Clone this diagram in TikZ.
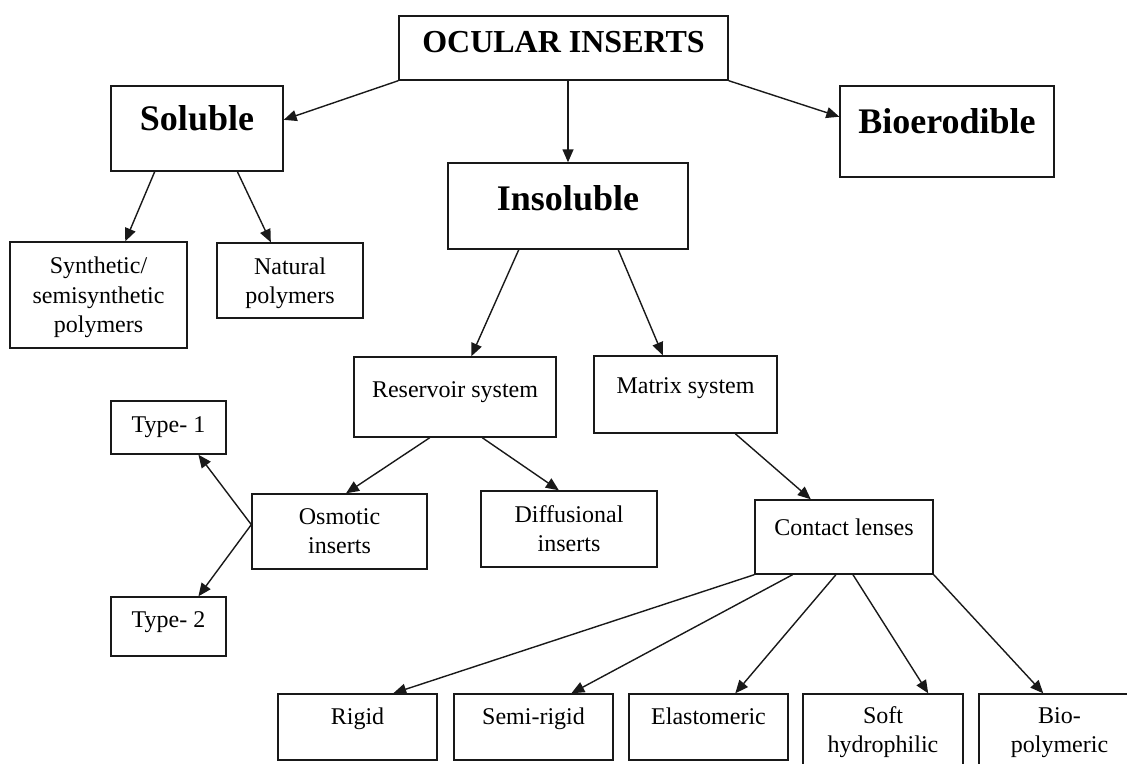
\documentclass[tikz,border=0pt]{standalone}
\usepackage{fontspec}
\setmainfont{Liberation Serif}
\usetikzlibrary{arrows.meta,calc}
\begin{document}
\begin{tikzpicture}[x=1pt,y=-1pt,
  box/.style={draw=black!90,line width=1.4pt,rectangle,inner sep=0pt},
  lbl/.style={anchor=base,inner sep=0pt,font=\fontsize{24}{29}\selectfont},
  big/.style={anchor=base,inner sep=0pt,font=\fontsize{36}{43}\selectfont\bfseries},
  arr/.style={draw=black!90,line width=1.4pt,-{Triangle[length=13pt,width=11pt]}}]
\useasboundingbox (0,0) rectangle (1127,763);
\clip (0,0) rectangle (1127,763);
% boxes
\node[box,minimum width=329pt,minimum height=64pt] (oc) at (563.5,48) {};
\node[box,minimum width=172pt,minimum height=85pt] (sol) at (197,128.5) {};
\node[box,minimum width=214pt,minimum height=91pt] (bio) at (947,131.5) {};
\node[box,minimum width=240pt,minimum height=86pt] (ins) at (568,206) {};
\node[box,minimum width=177pt,minimum height=106pt] (syn) at (98.5,295) {};
\node[box,minimum width=146pt,minimum height=75pt] (nat) at (290,280.5) {};
\node[box,minimum width=202pt,minimum height=80pt] (res) at (455,397) {};
\node[box,minimum width=183pt,minimum height=77pt] (mat) at (685.5,394.5) {};
\node[box,minimum width=115pt,minimum height=53pt] (t1) at (168.5,427.5) {};
\node[box,minimum width=115pt,minimum height=59pt] (t2) at (168.5,626.5) {};
\node[box,minimum width=175pt,minimum height=75pt] (osm) at (339.5,531.5) {};
\node[box,minimum width=176pt,minimum height=76pt] (dif) at (569,529) {};
\node[box,minimum width=178pt,minimum height=74pt] (con) at (844,537) {};
\node[box,minimum width=159pt,minimum height=66pt] (rig) at (357.5,727) {};
\node[box,minimum width=159pt,minimum height=66pt] (semi) at (533.5,727) {};
\node[box,minimum width=159pt,minimum height=66pt] (ela) at (708.5,727) {};
\node[box,minimum width=160pt,minimum height=86pt] (soft) at (883,737) {};
\node[box,minimum width=161pt,minimum height=86pt] (bp) at (1059.5,737) {};
% texts
\node[anchor=base,inner sep=0pt,font=\fontsize{32}{38}\selectfont\bfseries] (ocT) at (563.5,52) {OCULAR INSERTS};
\node[big] (solT) at (197,130) {Soluble};
\node[big] (bioT) at (947,133) {Bioerodible};
\node[big] (insT) at (568,210) {Insoluble};
\node[lbl] (synT1) at (98.5,273) {Synthetic/};
\node[lbl] (synT2) at (98.5,303) {semisynthetic};
\node[lbl] (synT3) at (98.5,332) {polymers};
\node[lbl] (natT1) at (290,274) {Natural};
\node[lbl] (natT2) at (290,303) {polymers};
\node[lbl] (resT) at (455,397) {Reservoir system};
\node[lbl] (matT) at (685.5,393) {Matrix system};
\node[lbl] (t1T) at (168.5,432) {Type- 1};
\node[lbl] (t2T) at (168.5,627) {Type- 2};
\node[lbl] (osmT1) at (339.5,524) {Osmotic};
\node[lbl] (osmT2) at (339.5,553) {inserts};
\node[lbl] (difT1) at (569,522) {Diffusional};
\node[lbl] (difT2) at (569,551) {inserts};
\node[lbl] (conT) at (844,535) {Contact lenses};
\node[lbl] (rigT) at (357.5,724) {Rigid};
\node[lbl] (semiT) at (533.5,724) {Semi-rigid};
\node[lbl] (elaT) at (708.5,724) {Elastomeric};
\node[lbl] (softT1) at (883,723) {Soft};
\node[lbl] (softT2) at (883,752) {hydrophilic};
\node[lbl] (bpT1) at (1059.5,723) {Bio-};
\node[lbl] (bpT2) at (1059.5,752) {polymeric};
% connectors
\draw[arr] (oc.south west) -- ($(sol.north east)!0.4!(sol.south east)$);
\draw[arr] (ins.north |- oc.south) -- (ins.north);
\draw[arr] (oc.south east) -- ($(bio.north west)!0.34!(bio.south west)$);
\draw[arr] ($(sol.south west)!0.256!(sol.south east)$) -- ($(syn.north west)!0.65!(syn.north east)$);
\draw[arr] ($(sol.south west)!0.733!(sol.south east)$) -- ($(nat.north west)!0.37!(nat.north east)$);
\draw[arr] ($(ins.south west)!0.296!(ins.south east)$) -- ($(res.north west)!0.58!(res.north east)$);
\draw[arr] ($(ins.south west)!0.708!(ins.south east)$) -- ($(mat.north west)!0.377!(mat.north east)$);
\draw[arr] ($(res.south west)!0.376!(res.south east)$) -- ($(osm.north west)!0.537!(osm.north east)$);
\draw[arr] ($(res.south west)!0.634!(res.south east)$) -- ($(dif.north west)!0.443!(dif.north east)$);
\draw[arr] ($(osm.north west)!0.41!(osm.south west)$) -- ($(t1.south west)!0.757!(t1.south east)$);
\draw[arr] ($(osm.north west)!0.41!(osm.south west)$) -- ($(t2.north west)!0.757!(t2.north east)$);
\draw[arr] ($(mat.south west)!0.77!(mat.south east)$) -- ($(con.north west)!0.315!(con.north east)$);
\draw[arr] (con.south west) -- ($(rig.north west)!0.723!(rig.north east)$);
\draw[arr] ($(con.south west)!0.213!(con.south east)$) -- ($(semi.north west)!0.736!(semi.north east)$);
\draw[arr] ($(con.south west)!0.455!(con.south east)$) -- ($(ela.north west)!0.667!(ela.north east)$);
\draw[arr] ($(con.south west)!0.55!(con.south east)$) -- ($(soft.north west)!0.78!(soft.north east)$);
\draw[arr] (con.south east) -- ($(bp.north west)!0.40!(bp.north east)$);
\end{tikzpicture}
\end{document}
